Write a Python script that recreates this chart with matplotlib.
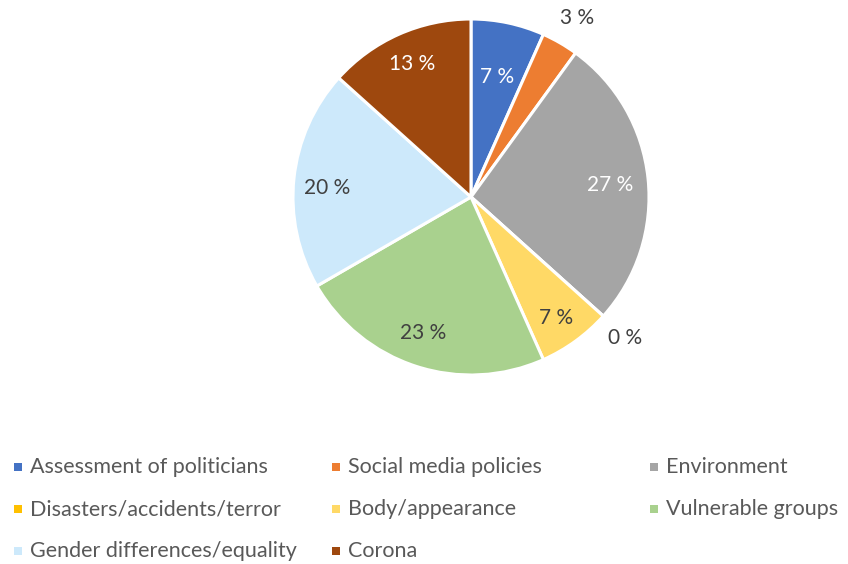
import matplotlib.pyplot as plt
from matplotlib.patches import Rectangle

plt.rcParams['font.family'] = ['Lato', 'DejaVu Sans']

# Number of posts per topic, clockwise from 12 o'clock
topics = ['Assessment of politicians', 'Social media policies', 'Environment',
          'Disasters/accidents/terror', 'Body/appearance', 'Vulnerable groups',
          'Gender differences/equality', 'Corona']
counts = [2, 1, 8, 0, 2, 7, 6, 4]
colors = ['#4472C4', '#ED7D31', '#A5A5A5', '#FFC000', '#FFD966', '#A9D18E',
          '#CDE9FB', '#9E480E']
label_colors = ['white', '#404040', 'white', '#404040', '#404040', '#404040',
                '#404040', 'white']
# label placement in units of the pie radius
label_pos = [(0.146, 0.674), (0.596, 1.006), (0.781, 0.067), (0.865, -0.792),
             (0.478, -0.680), (-0.270, -0.764), (-0.809, 0.051), (-0.331, 0.747)]

fig = plt.figure(figsize=(8.48, 5.64), dpi=100)
ax = fig.add_axes([293 / 848, 189 / 564, 356 / 848, 356 / 564])

wedges, texts, autotexts = ax.pie(
    counts, colors=colors, startangle=90, counterclock=False,
    autopct=lambda p: f'{p:.0f} %', radius=1.0,
    wedgeprops=dict(edgecolor='white', linewidth=2.2),
    textprops=dict(fontsize=15))
for t, c, pos in zip(autotexts, label_colors, label_pos):
    t.set_color(c)
    t.set_position(pos)
    t.set_ha('center')
    t.set_va('center')
ax.set_xlim(-1, 1)
ax.set_ylim(-1, 1)
ax.set_aspect('equal')

# legend laid out in three even columns below the pie
col_x = [18, 336, 654]
row_y = [467, 509, 551]
for i, (name, c) in enumerate(zip(topics, colors)):
    x = col_x[i % 3]
    y = row_y[i // 3]
    fig.patches.append(Rectangle(((x - 4) / 848, (564 - y - 4) / 564),
                                 8 / 848, 8 / 564, facecolor=c, edgecolor='none',
                                 transform=fig.transFigure))
    fig.text((x + 12) / 848, (564 - y) / 564, name, fontsize=15.5,
             color='#595959', ha='left', va='center')

fig.savefig('out.png', dpi=100)
